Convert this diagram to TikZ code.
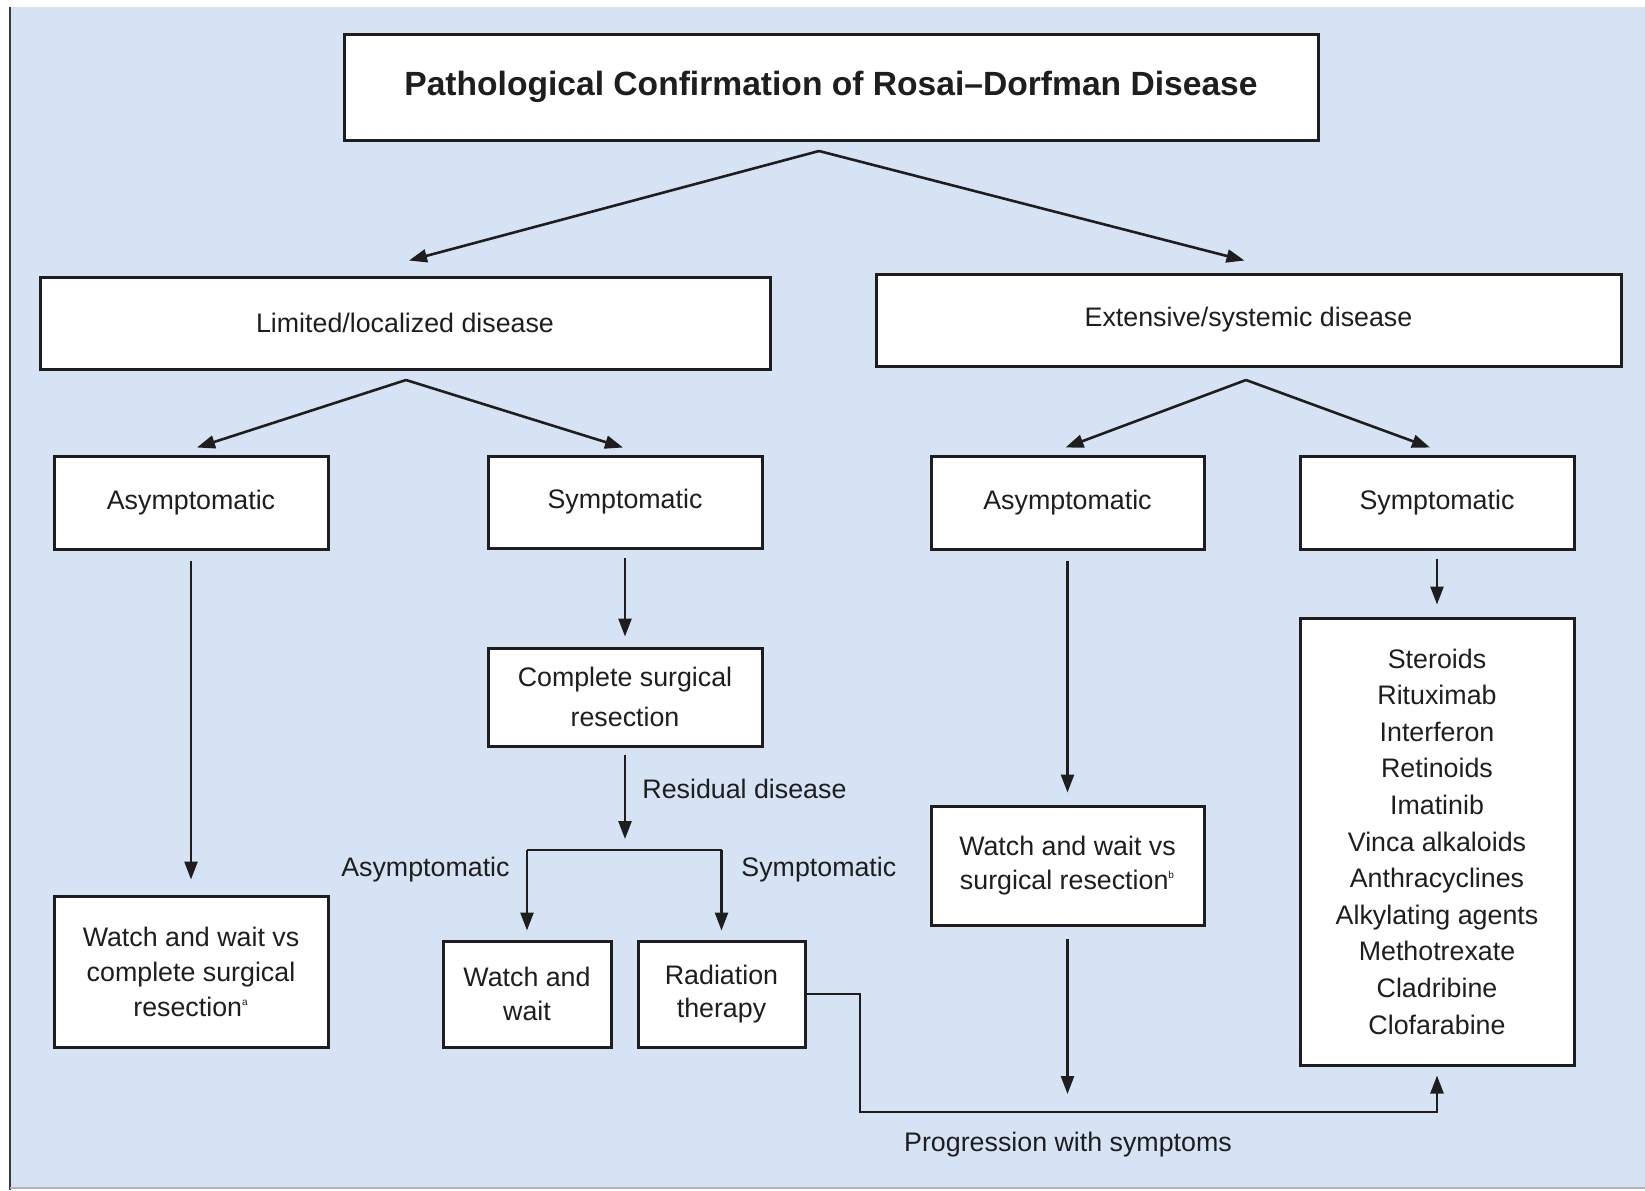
\documentclass[tikz,border=0pt]{standalone}
\usepackage{fontspec}
\setmainfont{Liberation Sans}
\usepackage{tikz}
\usetikzlibrary{arrows.meta,calc,positioning}
\definecolor{panelblue}{HTML}{D6E3F4}
\definecolor{inkgray}{HTML}{1E1E1E}
\definecolor{framegray}{HTML}{3A3A3A}
\tikzset{
  boxnode/.style={draw=inkgray, line width=1.5pt, fill=white, align=center, inner sep=0pt, text=inkgray, font=\fontsize{13.4}{17.5}\selectfont},
  titlebox/.style={boxnode, font=\bfseries\fontsize{16.8}{20}\selectfont},
  flow/.style={inkgray, line width=1.3pt, -{Triangle[length=9pt,width=6.5pt]}},
  plainflow/.style={inkgray, line width=1.3pt},
  labeltext/.style={text=inkgray, inner sep=0pt, font=\fontsize{13.4}{16}\selectfont}
}
\begin{document}
\begin{tikzpicture}[x=0.5pt, y=-0.5pt]
  \useasboundingbox (0,0) rectangle (1645,1190);
  % panel
  \fill[panelblue] (10,7) rectangle (1645,1188);
  \draw[framegray, line width=1.2pt] (10,7) -- (10,1190);
  \draw[gray!60, line width=0.6pt] (10,1188) -- (1645,1188);

  % boxes
  \node[titlebox, minimum width=487pt, minimum height=53pt] (title) at (831,87) {Pathological Confirmation of Rosai--Dorfman Disease};
  \node[boxnode, minimum width=365pt, minimum height=46pt] (limited) at (405,323) {Limited/localized disease};
  \node[boxnode, minimum width=372.5pt, minimum height=46pt] (extensive) at (1248.5,320) {Extensive/systemic disease};
  \node[boxnode, minimum width=137pt, minimum height=46.5pt] (asymL) at (191,502.5) {Asymptomatic};
  \node[boxnode, minimum width=137pt, minimum height=46pt] (sympL) at (625,502) {Symptomatic};
  \node[boxnode, minimum width=136.5pt, minimum height=46.5pt] (asymR) at (1067.5,502.5) {Asymptomatic};
  \node[boxnode, minimum width=137pt, minimum height=46.5pt] (sympR) at (1437,502.5) {Symptomatic};
  \node[boxnode, minimum width=137pt, minimum height=49pt, font=\fontsize{13.4}{20}\selectfont] (resect) at (625,697) {Complete surgical\\resection};
  \node[boxnode, minimum width=137pt, minimum height=75.5pt] (watchL) at (191,971.5) {Watch and wait vs\\complete surgical\\resection\textsuperscript{\tiny a}};
  \node[boxnode, minimum width=84pt, minimum height=53pt, font=\fontsize{13.4}{16.8}\selectfont] (watch) at (527,994) {Watch and\\wait};
  \node[boxnode, minimum width=83.5pt, minimum height=53pt, font=\fontsize{13.4}{16.8}\selectfont] (radio) at (721.5,994) {Radiation\\therapy};
  \node[boxnode, minimum width=136.5pt, minimum height=59.5pt, font=\fontsize{13.4}{16.8}\selectfont] (watchR) at (1067.5,865.5) {Watch and wait vs\\surgical resection\textsuperscript{\tiny b}};
  \node[boxnode, minimum width=137pt, minimum height=223.5pt, font=\fontsize{13.4}{18.3}\selectfont] (drugs) at (1437,841.5) {Steroids\\Rituximab\\Interferon\\Retinoids\\Imatinib\\Vinca alkaloids\\Anthracyclines\\Alkylating agents\\Methotrexate\\Cladribine\\Clofarabine};

  % forks
  \coordinate (titlefork) at (819,151);
  \coordinate (limitedfork) at (406,380);
  \coordinate (extensivefork) at (1246,380);
  \draw[flow] (titlefork) -- ($(limited.north)+(4,-15)$);
  \draw[flow] (titlefork) -- ($(extensive.north)+(-4,-12)$);
  \draw[flow] (limitedfork) -- ($(asymL.north)+(6,-7)$);
  \draw[flow] (limitedfork) -- ($(sympL.north)+(-2,-7)$);
  \draw[flow] (extensivefork) -- ($(asymR.north)+(-2,-7)$);
  \draw[flow] (extensivefork) -- ($(sympR.north)+(-7,-7)$);

  % straight arrows
  \draw[flow] ($(asymL.south)+(0,10)$) -- ($(watchL.north)+(0,-15)$);
  \draw[flow] ($(sympL.south)+(0,8)$) -- ($(resect.north)+(0,-10)$);
  \coordinate (branch) at (625,850);
  \draw[flow] ($(resect.south)+(0,7)$) -- ($(branch)+(0,-11)$);
  \draw[plainflow] (watch.north |- branch) -- (radio.north |- branch);
  \draw[flow] (watch.north |- branch) -- ($(watch.north)+(0,-9)$);
  \draw[flow] (radio.north |- branch) -- ($(radio.north)+(0,-9)$);
  \draw[flow] ($(asymR.south)+(0,10)$) -- ($(watchR.north)+(0,-12)$);
  \draw[flow] ($(sympR.south)+(0,8)$) -- ($(drugs.north)+(0,-12)$);

  % progression path
  \coordinate (progress) at (860,1112);
  \draw[flow] ($(watchR.south)+(0,12)$) -- ($(watchR.south |- progress)+(0,-18)$);
  \draw[flow] (radio.east) -| (progress) -| ($(drugs.south)+(0,9)$);

  % labels
  \node[labeltext, anchor=west] (residual) at (642,789) {Residual disease};
  \node[labeltext, anchor=east] (asymlabel) at (510,870) {Asymptomatic};
  \node[labeltext, anchor=west] (symplabel) at (741,870) {Symptomatic};
  \node[labeltext] (progresslabel) at (1068,1145) {Progression with symptoms};
\end{tikzpicture}
\end{document}
